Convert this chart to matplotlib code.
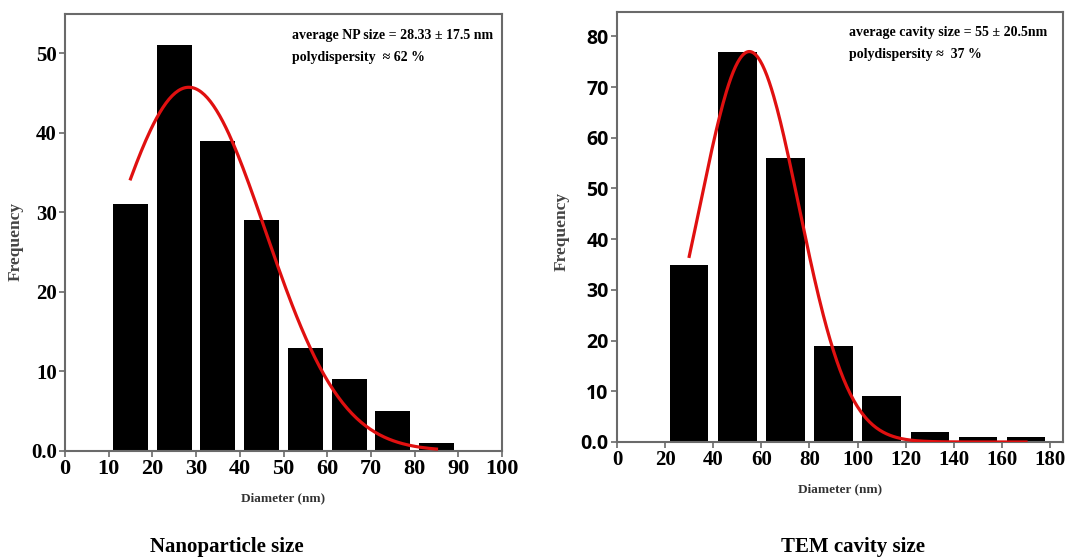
import numpy as np
import matplotlib
matplotlib.use('Agg')
import matplotlib.pyplot as plt

# left panel: nanoparticle size histogram
np_centers = [15, 25, 35, 45, 55, 65, 75, 85]
np_counts = [31, 51, 39, 29, 13, 9, 5, 1]
np_mean, np_sd, np_peak = 28.33, 17.5, 45.7
np_fit_range = (15, 85)

# right panel: TEM cavity size histogram
cav_centers = [30, 50, 70, 90, 110, 130, 150, 170]
cav_counts = [35, 77, 56, 19, 9, 2, 1, 1]
cav_mean, cav_sd, cav_peak = 55, 20.5, 77
cav_fit_range = (30, 170)

SERIF = 'Liberation Serif'
SANS = 'Open Sans'
GRAY = '#6a6a6a'

fig = plt.figure(figsize=(10.67, 5.58), dpi=100)
ax1 = fig.add_axes([0.0609, 0.1918, 0.4096, 0.783])
ax2 = fig.add_axes([0.5783, 0.2079, 0.418, 0.7706])


def gauss(x, m, s, a):
    return a * np.exp(-(x - m) ** 2 / (2 * s ** 2))


def style(ax):
    for sp in ax.spines.values():
        sp.set_color(GRAY); sp.set_linewidth(1.5)
    ax.tick_params(direction='out', length=4, width=1.2, color=GRAY, pad=2)


# left
ax1.bar(np_centers, np_counts, width=8, color='black', zorder=2)
xf = np.linspace(*np_fit_range, 200)
ax1.plot(xf, gauss(xf, np_mean, np_sd, np_peak), color='#e01010', lw=2.3, zorder=3)
ax1.set_xlim(0, 100); ax1.set_ylim(0, 54.9)
ax1.set_xticks(range(0, 101, 10))
ax1.set_yticks(range(0, 51, 10))
ax1.set_yticklabels(['0.0', '10', '20', '30', '40', '50'])
style(ax1)
for t in ax1.get_xticklabels():
    t.set_fontfamily(SERIF); t.set_fontweight('bold'); t.set_fontsize(16)
for t in ax1.get_yticklabels():
    t.set_fontfamily(SERIF); t.set_fontweight('bold'); t.set_fontsize(15)
ax1.set_ylabel('Frequency', fontfamily=SERIF, fontweight='bold', fontsize=12.5,
               color='#444444')
ax1.yaxis.set_label_coords(-0.095, 0.48)
ax1.set_xlabel('Diameter (nm)', fontfamily=SERIF, fontweight='bold', fontsize=9.5,
               color='#333333', labelpad=9)
ax1.text(0.52, 0.965, 'average NP size = 28.33 ± 17.5 nm\npolydispersity  ≈ 62 %',
         transform=ax1.transAxes, fontfamily=SERIF, fontweight='bold', fontsize=10,
         va='top', ha='left', linespacing=1.9)

# right
ax2.bar(cav_centers, cav_counts, width=16, color='black', zorder=2)
xf = np.linspace(*cav_fit_range, 300)
ax2.plot(xf, gauss(xf, cav_mean, cav_sd, cav_peak), color='#e01010', lw=2.3, zorder=3)
ax2.set_xlim(0, 185.4); ax2.set_ylim(0, 84.8)
ax2.set_xticks(range(0, 181, 20))
ax2.set_yticks(range(0, 81, 10))
ax2.set_yticklabels(['0.0', '10', '20', '30', '40', '50', '60', '70', '80'])
style(ax2)
for t in ax2.get_xticklabels():
    t.set_fontfamily(SERIF); t.set_fontweight('bold'); t.set_fontsize(15)
for t in ax2.get_yticklabels():
    t.set_fontfamily(SANS); t.set_fontweight('bold'); t.set_fontsize(14)
ax2.set_ylabel('Frequency', fontfamily=SERIF, fontweight='bold', fontsize=12.5,
               color='#444444')
ax2.yaxis.set_label_coords(-0.106, 0.49)
ax2.set_xlabel('Diameter (nm)', fontfamily=SERIF, fontweight='bold', fontsize=9.5,
               color='#333333', labelpad=9)
ax2.text(0.52, 0.967, 'average cavity size = 55 ± 20.5nm\npolydispersity ≈  37 %',
         transform=ax2.transAxes, fontfamily=SERIF, fontweight='bold', fontsize=10,
         va='top', ha='left', linespacing=1.9)

# panel captions
fig.text(227 / 1067, 1 - 547 / 558, 'Nanoparticle size', fontfamily=SERIF,
         fontweight='bold', fontsize=15, ha='center', va='center')
fig.text(853 / 1067, 1 - 547 / 558, 'TEM cavity size', fontfamily=SERIF,
         fontweight='bold', fontsize=15, ha='center', va='center')

fig.savefig('out.png', dpi=100)
